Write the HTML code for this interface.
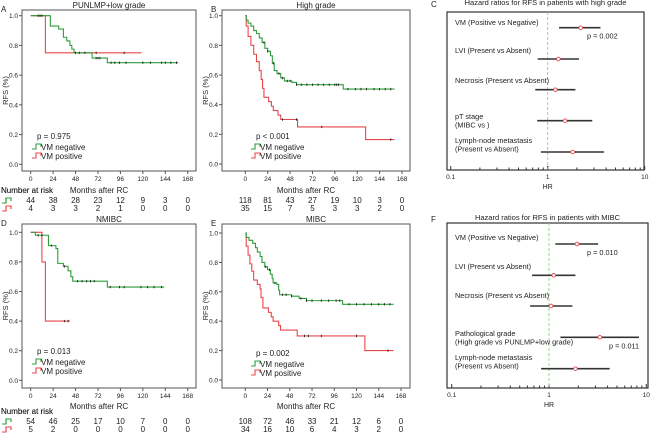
<!DOCTYPE html>
<html><head><meta charset="utf-8"><style>
body{margin:0;background:#fff}
svg{display:block;font-family:"Liberation Sans",sans-serif}
text{fill:#222}
</style></head><body>
<svg id="fig" width="650" height="434" viewBox="0 0 650 434" xmlns="http://www.w3.org/2000/svg"></svg>
<script>
// ---- KM data: [time, survival] steps, end time ----
const kmA_neg=[[0,1],[21,0.93],[30,0.91],[35,0.855],[38.6,0.83],[42,0.80],[44,0.775],[46.4,0.75],[65.7,0.715],[82,0.684]];
const kmA_negEnd=158;
const kmA_pos=[[0,1],[15.7,0.75]];
const kmA_posEnd=118.5;
const kmB_neg=[[0,1],[1,0.97],[3,0.95],[6,0.93],[9,0.90],[12,0.88],[15,0.85],[18,0.82],[21,0.78],[24,0.76],[27,0.73],[29,0.68],[31,0.63],[34,0.61],[38,0.58],[42,0.56],[50,0.55],[55,0.535],[105,0.505]];
const kmB_negEnd=160;
const kmB_pos=[[0,1],[1,0.93],[3,0.86],[6,0.80],[9,0.74],[12,0.69],[15,0.63],[17,0.57],[18.5,0.51],[20,0.45],[25,0.42],[28,0.39],[30,0.36],[35,0.33],[38,0.30],[56,0.25],[129,0.165]];
const kmB_posEnd=160;
const kmD_neg=[[0,1],[5,0.98],[19,0.91],[27,0.89],[29,0.79],[35,0.77],[40,0.74],[43,0.70],[45,0.67],[82,0.63]];
const kmD_negEnd=143;
const kmD_pos=[[0,1],[12,0.80],[15.7,0.40]];
const kmD_posEnd=42;
const kmE_neg=[[0,1],[1,0.97],[4,0.95],[8,0.93],[11,0.90],[13,0.87],[16,0.84],[18,0.80],[21,0.77],[24,0.75],[27,0.72],[29,0.69],[30,0.66],[34,0.65],[36,0.61],[37,0.58],[50,0.57],[58,0.555],[66,0.54],[105,0.515]];
const kmE_negEnd=160;
const kmE_pos=[[0,1],[1,0.91],[3,0.85],[5,0.79],[7,0.74],[9,0.68],[13,0.65],[16,0.62],[17,0.56],[19,0.49],[25,0.46],[28,0.43],[30,0.40],[36,0.37],[38,0.34],[56,0.30],[129,0.20]];
const kmE_posEnd=160;
const censA_neg=[8,10,12,48,52,58,70,72,74,86,90,95,102,120,128,140,144,150,156];
const censA_pos=[70,100];
const censB_neg=[20,24,30,36,40,45,48,55,60,66,72,78,84,90,96,98,100,110,118,124,130,138,144,150,156];
const censB_pos=[40,55,82,156];
const censD_neg=[8,12,22,36,50,55,60,64,68,85,95,100,118,125,132,140];
const censD_pos=[36,40];
const censE_neg=[22,26,32,40,44,50,60,66,72,82,90,98,102,112,120,128,136,144,150,156];
const censE_pos=[64,68,82,120,154];
const riskA_neg=[44,38,28,23,12,9,3,0], riskA_pos=[4,3,3,2,1,0,0,0];
const riskB_neg=[118,81,43,27,19,10,3,0], riskB_pos=[35,15,7,5,3,3,2,0];
const riskD_neg=[54,46,25,17,10,7,0,0], riskD_pos=[5,2,0,0,0,0,0,0];
const riskE_neg=[108,72,46,33,21,12,6,0], riskE_pos=[34,16,10,6,4,3,2,0];
const xTicks=[0,24,48,72,96,120,144,168];
const yTicks=[0,0.2,0.4,0.6,0.8,1.0];
// ---- Forest data ----
const fcLabels=[["VM (Positive vs Negative)"],["LVI (Present vs Absent)"],["Necrosis (Present vs Absent)"],["pT stage","(MIBC vs )"],["Lymph-node metastasis","(Present vs Absent)"]];
const fcHR=[2.19,1.29,1.2,1.51,1.81], fcLo=[1.31,0.79,0.745,0.78,0.85], fcHi=[3.5,2.1,1.93,2.88,3.8];
const fcP=["p = 0.002","","","",""];
const ffLabels=[["VM (Positive vs Negative)"],["LVI (Present vs Absent)"],["Necrosis (Present vs Absent)"],["Pathological grade","(High grade vs PUNLMP+low grade)"],["Lymph-node metastasis","(Present vs Absent)"]];
const ffHR=[1.94,1.12,1.05,3.33,1.87], ffLo=[1.16,0.67,0.64,1.31,0.83], ffHi=[3.2,1.87,1.74,8.4,4.2];
const ffP=["p = 0.010","","","p = 0.011",""];

const S=document.getElementById('fig');
const NS='http://www.w3.org/2000/svg';
function mk(tag,at,txt){const e=document.createElementNS(NS,tag);for(const k in at)e.setAttribute(k,at[k]);if(txt!==undefined)e.textContent=txt;S.appendChild(e);return e;}
const G='#2e9e3a', R='#e8474a';

function km(o){
  const xs=t=>o.x0+(o.x1-o.x0)*t/168, ys=s=>o.yz+(o.y1-o.yz)*s;
  let b=mk('rect',{x:o.bx,y:o.by,width:o.bw,height:o.bh,fill:'none',stroke:'#555','stroke-width':1});
  
  let t=mk('text',{x:(o.bx+o.bx+o.bw)/2,y:o.by-2,'font-size':8,'text-anchor':'middle'},o.title);
  
  let L=mk('text',{x:o.lx,y:o.by+2,'font-size':8},o.letter);
  
  yTicks.forEach(v=>{const y=ys(v);
    let tk=mk('line',{x1:o.bx-3,x2:o.bx,y1:y,y2:y,stroke:'#555'});
    let tl=mk('text',{x:o.bx-4,y:y+2.5,'font-size':6.5,'text-anchor':'end'},v.toFixed(1));});
  xTicks.forEach(v=>{const x=xs(v);
    let tk=mk('line',{x1:x,x2:x,y1:o.by+o.bh,y2:o.by+o.bh+3,stroke:'#555'});
    let tl=mk('text',{x:x,y:o.by+o.bh+10,'font-size':6.5,'text-anchor':'middle'},v);});
  let yl=mk('text',{x:0,y:0,'font-size':7.5,'text-anchor':'middle',transform:`translate(${o.bx-14},${(o.by+o.by+o.bh)/2}) rotate(-90)`},'RFS (%)');
  
  let xl=mk('text',{x:(o.bx+o.bx+o.bw)/2-10,y:o.xlY,'font-size':8,'text-anchor':'middle'},'Months after RC');
  
  [[o.pos,o.posEnd,o.cpos,R,'vm-positive'],[o.neg,o.negEnd,o.cneg,G,'vm-negative']].forEach(([st,end,cs,col,nm])=>{
    let d='M'+xs(st[0][0])+','+ys(st[0][1]);
    for(let i=1;i<st.length;i++){d+='H'+xs(st[i][0])+'V'+ys(st[i][1]);}
    d+='H'+xs(end);
    let p=mk('path',{d:d,fill:'none',stroke:col,'stroke-width':1.1});
    cs.forEach(c=>{let s=st[0][1];for(const q of st)if(q[0]<=c)s=q[1];const x=xs(c),y=ys(s);
      let m=mk('line',{x1:x,x2:x,y1:y-1.2,y2:y+1.2,stroke:'#111','stroke-width':0.8});});
  });
  let pt=mk('text',{x:o.px,y:o.py,'font-size':8},o.p);
  [[G,'VM negative',0],[R,'VM positive',9]].forEach(([c,lab,dy])=>{const x=o.px-5,y=o.py+10+dy;
    let ic=mk('path',{d:`M${x},${y}H${x+4}V${y-5}H${x+9}V${y-2}`,fill:'none',stroke:c,'stroke-width':1.1});
    let lt=mk('text',{x:x+9,y:y+1,'font-size':8},lab);});
  let nr=mk('text',{x:1,y:o.nrY,'font-size':8},'Number at risk');
  [[o.rneg,G,o.r1],[o.rpos,R,o.r2]].forEach(([arr,c,y])=>{
    let ic=mk('path',{d:`M2,${y}H6V${y-5}H11V${y-2}`,fill:'none',stroke:c,'stroke-width':1.1});
    arr.forEach((v,i)=>{let tx=mk('text',{x:xs(xTicks[i]),y:y,'font-size':8,'text-anchor':'middle'},v);});});
}
km({id:'a',letter:'A',lx:1,title:'PUNLMP+low grade',bx:22,by:10,bw:174,bh:161,x0:30.7,x1:187.7,yz:164.3,y1:15.7,neg:kmA_neg,negEnd:kmA_negEnd,pos:kmA_pos,posEnd:kmA_posEnd,cneg:censA_neg,cpos:censA_pos,p:'p = 0.975',px:37,py:139,xlY:193,nrY:193,r1:203,r2:211,rneg:riskA_neg,rpos:riskA_pos});
km({id:'b',letter:'B',lx:211,title:'High grade',bx:222,by:10,bw:188,bh:161,x0:245.3,x1:402,yz:164,y1:15.7,neg:kmB_neg,negEnd:kmB_negEnd,pos:kmB_pos,posEnd:kmB_posEnd,cneg:censB_neg,cpos:censB_pos,p:'p < 0.001',px:256,py:139,xlY:193,nrY:193,r1:203,r2:211,rneg:riskB_neg,rpos:riskB_pos});
km({id:'d',letter:'D',lx:1,title:'NMIBC',bx:22,by:224,bw:174,bh:164,x0:30.7,x1:187.7,yz:380.3,y1:232.3,neg:kmD_neg,negEnd:kmD_negEnd,pos:kmD_pos,posEnd:kmD_posEnd,cneg:censD_neg,cpos:censD_pos,p:'p = 0.013',px:37,py:354,xlY:409,nrY:414,r1:424,r2:432,rneg:riskD_neg,rpos:riskD_pos});
km({id:'e',letter:'E',lx:211,title:'MIBC',bx:222,by:224,bw:188,bh:164,x0:245.3,x1:401,yz:380,y1:233,neg:kmE_neg,negEnd:kmE_negEnd,pos:kmE_pos,posEnd:kmE_posEnd,cneg:censE_neg,cpos:censE_pos,p:'p = 0.002',px:256,py:356,xlY:409,nrY:414,r1:424,r2:432,rneg:riskE_neg,rpos:riskE_pos});

function forest(o){
  const xs=v=>o.x1+(o.x1-o.x0)*Math.log10(v);
  let b=mk('rect',{x:o.bx,y:o.by,width:o.bw,height:o.bh,fill:'none',stroke:'#333','stroke-width':1.2});
  
  let t=mk('text',{x:o.bx+o.bw/2,y:o.ty,'font-size':7.5,'text-anchor':'middle'},o.title);
  let L=mk('text',{x:431,y:o.ty+2,'font-size':8},o.letter);
  const yb=o.by+o.bh;
  for(let d=-1;d<1;d++)for(let k=1;k<=10;k++){const v=k*Math.pow(10,d);const x=xs(v);const maj=(k===1||k===10);
    let tk=mk('line',{x1:x,x2:x,y1:yb,y2:yb-(maj?4:2.5),stroke:'#333'});}
  [0.1,1,10].forEach(v=>{let tl=mk('text',{x:xs(v),y:yb+9,'font-size':6.5,'text-anchor':'middle'},v);});
  let xl=mk('text',{x:xs(1),y:yb+19,'font-size':7,'text-anchor':'middle'},'HR');
  let ref=mk('line',{x1:xs(1),x2:xs(1),y1:o.by,y2:yb,stroke:'#7ccf6a','stroke-dasharray':'3,2','stroke-width':0.8});
  o.labels.forEach((lab,i)=>{
    lab.forEach((s,j)=>{let tx=mk('text',{x:o.bx+8,y:o.tyr[i]+j*8.3,'font-size':7.3},s);});
    const y=o.barY[i];
    let ci=mk('line',{x1:xs(o.lo[i]),x2:xs(o.hi[i]),y1:y,y2:y,stroke:'#333','stroke-width':1.6});
    let pt=mk('circle',{cx:xs(o.hr[i]),cy:y,r:1.8,fill:'#fff',stroke:R,'stroke-width':0.9});
    if(o.p[i]){let pv=mk('text',{x:o.pX[i],y:y+11,'font-size':7.3},o.p[i]);}
  });
}
forest({id:'c',letter:'C',title:'Hazard ratios for RFS in patients with high grade',ty:5,bx:447,by:12,bw:197,bh:158,x0:450.7,x1:547.7,labels:fcLabels,hr:fcHR,lo:fcLo,hi:fcHi,p:fcP,tyr:[25,53,83,119,143],barY:[27.7,59,89.7,120.7,152],pX:[587,0,0,0,0]});
forest({id:'f',letter:'F',title:'Hazard ratios for RFS in patients with MIBC',ty:220,bx:447,by:223,bw:201,bh:165,x0:451.7,x1:549,labels:ffLabels,hr:ffHR,lo:ffLo,hi:ffHi,p:ffP,tyr:[240,269,298,336,360],barY:[244,275.3,306,337.3,368.7],pX:[587,0,0,609,0]});
</script>
</body></html>
